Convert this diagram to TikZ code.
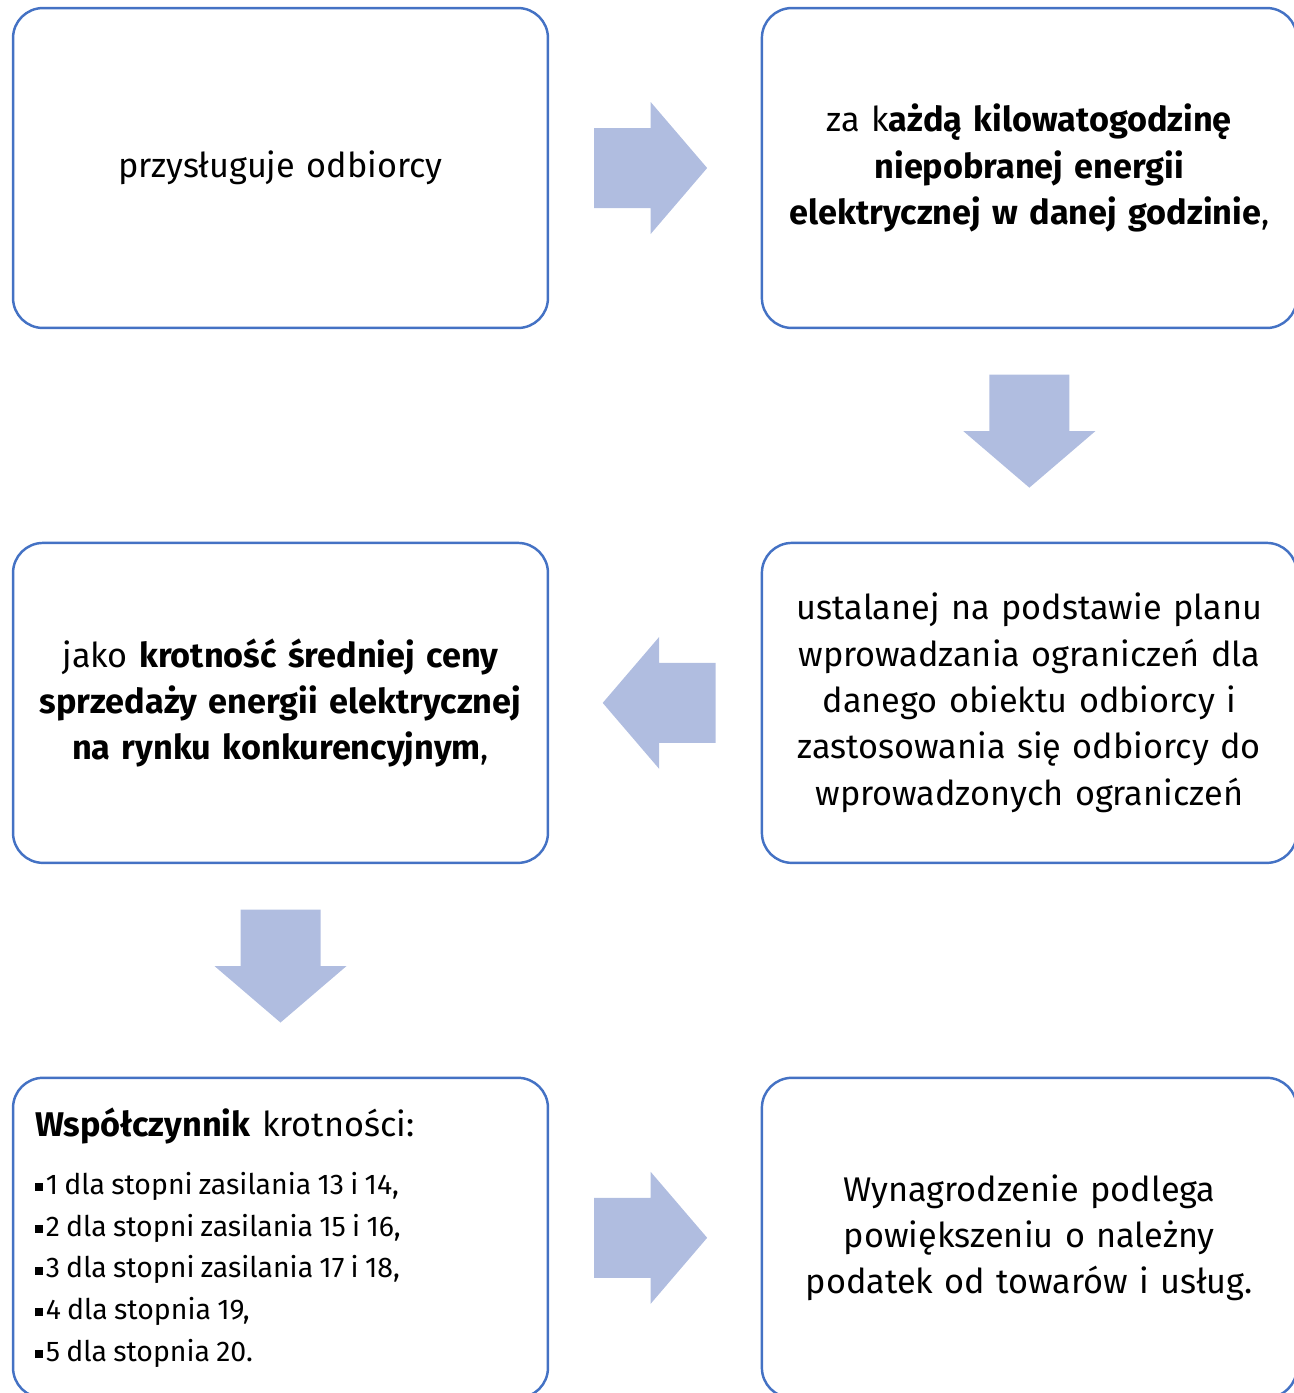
\documentclass[tikz,border=0pt]{standalone}
\usepackage{fontspec}
\setmainfont{Fira Sans}
\usetikzlibrary{calc,positioning}

\definecolor{boxline}{HTML}{4472C4}
\definecolor{arrowfill}{HTML}{B0BDE0}

\newcommand{\bul}{\rule[0.22ex]{4.6pt}{4.6pt}\hspace{1.5pt}}

\tikzset{
  box/.style={draw=boxline, line width=1.4pt, rounded corners=0.6cm,
    minimum width=10.7cm, minimum height=6.4cm, inner sep=0pt,
    outer sep=0pt, text width=10.2cm, align=center,
    font=\fontsize{19.5}{26.4}\selectfont},
  listbox/.style={box, text width=9.82cm, align=left},
  blockarrow/.pic={
    \fill[arrowfill] (-56.5,-40) -- (0,-40) -- (0,-66) -- (56.5,0)
      -- (0,66) -- (0,40) -- (-56.5,40) -- cycle;}
}

\begin{document}
\begin{tikzpicture}[x=0.02cm,y=-0.02cm]
\useasboundingbox (0,0) rectangle (1294,1393);

\node[box] (b1) at (280.5,168) {przysługuje odbiorcy};
\node[box, right=4.28cm of b1] (b2)
  {za k\textbf{ażdą kilowatogodzinę}\\
   \textbf{niepobranej energii}\\
   \textbf{elektrycznej w danej godzinie},};
\node[box, below=4.3cm of b2] (b4)
  {ustalanej na podstawie planu\\
   wprowadzania ograniczeń dla\\
   danego obiektu odbiorcy i\\
   zastosowania się odbiorcy do\\
   wprowadzonych ograniczeń};
\node[box, below=4.3cm of b1] (b3)
  {jako \textbf{krotność średniej ceny}\\
   \textbf{sprzedaży energii elektrycznej}\\
   \textbf{na rynku konkurencyjnym},};
\node[listbox, below=4.3cm of b3] (b5)
  {\textbf{Współczynnik} krotności:\\[9pt]
   {\fontsize{16.2}{23.8}\selectfont\spaceskip=0.22em plus 0.05em
   \bul 1 dla stopni zasilania 13 i 14,\\
   \bul 2 dla stopni zasilania 15 i 16,\\
   \bul 3 dla stopni zasilania 17 i 18,\\
   \bul 4 dla stopnia 19,\\
   \bul 5 dla stopnia 20.\par}};
\node[box, below=4.3cm of b4] (b6)
  {Wynagrodzenie podlega\\
   powiększeniu o należny\\
   podatek od towarów i usług.};

% block arrows between the boxes
\coordinate (a1) at ($(b1.east)!0.48!(b2.west)$);
\coordinate (a2) at ($(b2.south)!0.48!(b4.north)$);
\coordinate (a3) at ($(b4.west)!0.48!(b3.east)$);
\coordinate (a4) at ($(b3.south)!0.48!(b5.north)$);
\coordinate (a5) at ($(b5.east)!0.48!(b6.west)$);

\pic at (a1) {blockarrow};
\pic[rotate=-90] at (a2) {blockarrow};
\pic[rotate=180] at (a3) {blockarrow};
\pic[rotate=-90] at (a4) {blockarrow};
\pic at (a5) {blockarrow};
\end{tikzpicture}
\end{document}
